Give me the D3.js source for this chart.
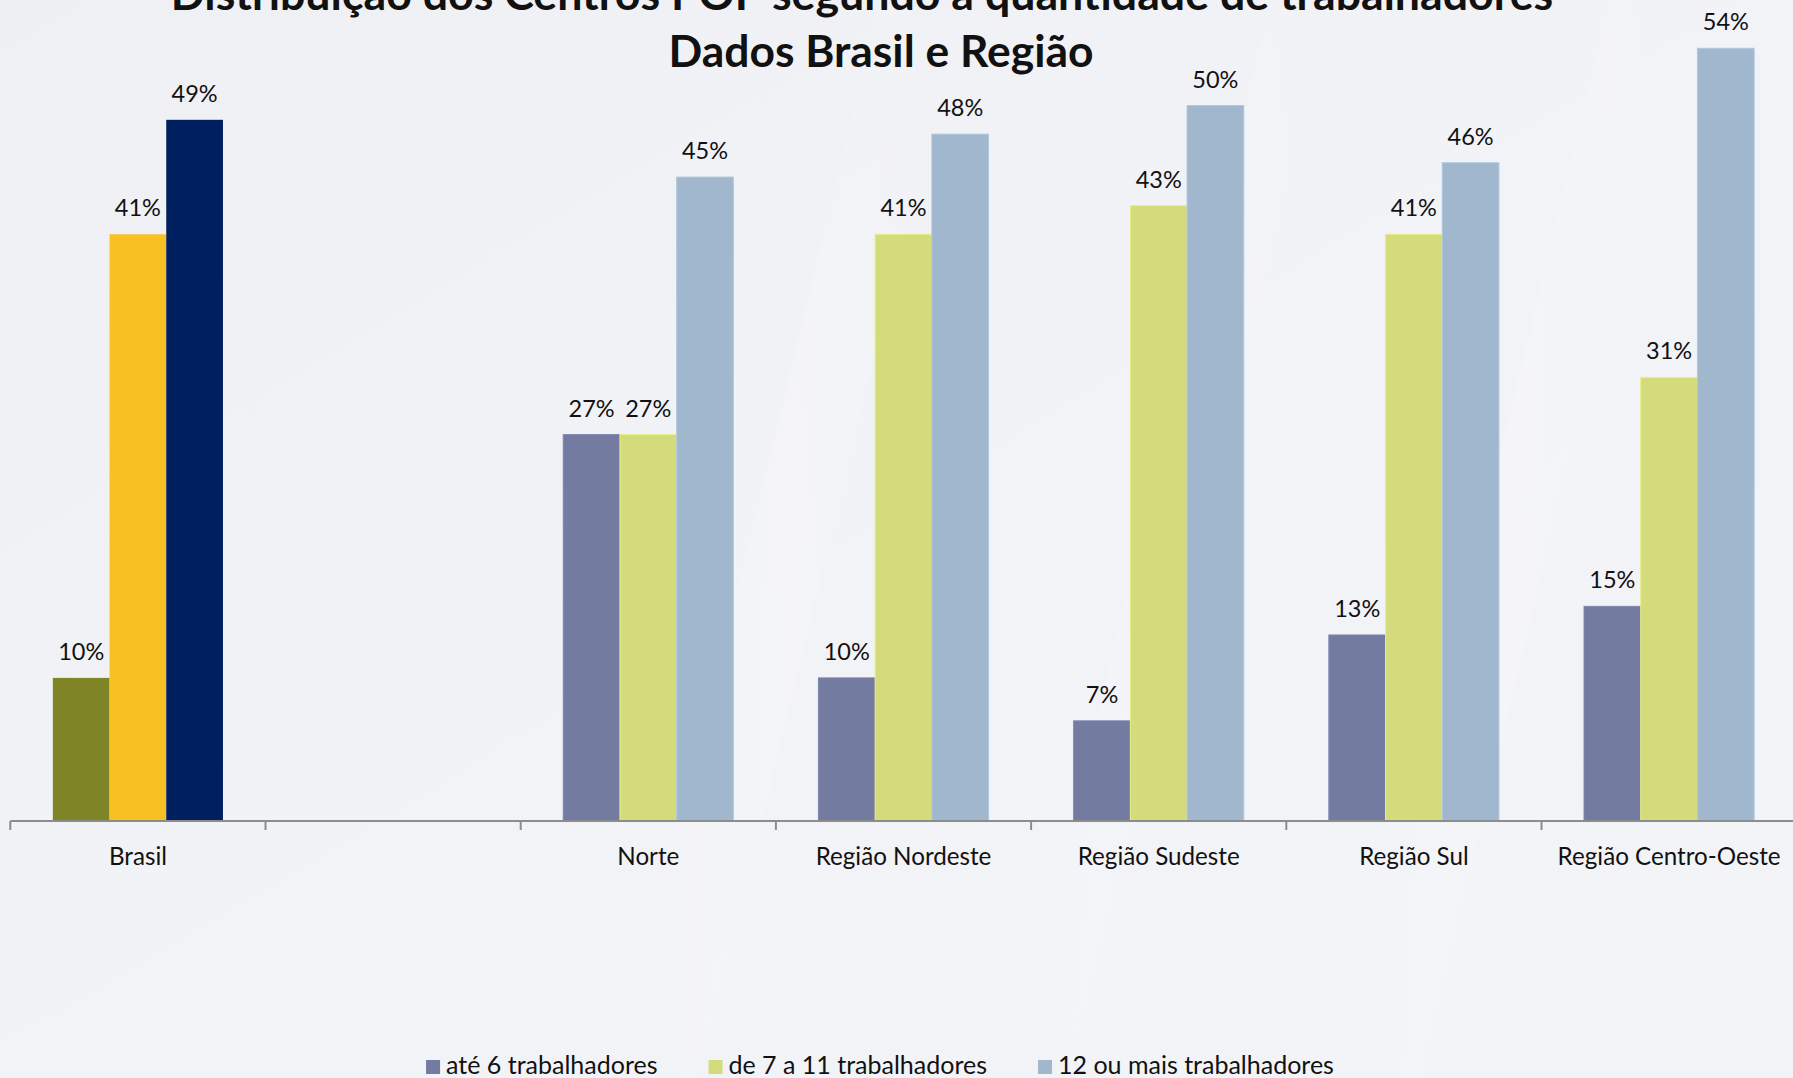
<!DOCTYPE html>
<html>
<head>
<meta charset="utf-8">
<script src="https://cdn.jsdelivr.net/npm/d3@7"></script>
<style>
  html, body { margin: 0; padding: 0; background: #f1f2f6; overflow: hidden; }
  svg { display: block; }
  text { font-family: Lato, "Open Sans", sans-serif; fill: #111; }
</style>
</head>
<body>
<svg id="chart" width="1793" height="1078"></svg>
<script>
// Categories along the x axis (the second slot is an empty spacer between Brasil and the regions)
const categories = ["Brasil", "", "Norte", "Região Nordeste", "Região Sudeste", "Região Sul", "Região Centro-Oeste"];
const series = ["até 6 trabalhadores", "de 7 a 11 trabalhadores", "12 ou mais trabalhadores"];

// Percent of Centros POP per category, one array per series
const ate6     = [10, null, 27, 10,  7, 13, 15];
const de7a11   = [41, null, 27, 41, 43, 41, 31];
const mais12   = [49, null, 45, 48, 50, 46, 54];

const titleLines = [
  "Distribuição dos Centros POP segundo a quantidade de trabalhadores",
  "Dados Brasil e Região"
];

// Brasil uses its own palette; the regions share the legend palette
const brasilColors = ["#7f8427", "#f7c121", "#001f5e"];
const regionColors = ["#737ba0", "#d4db7b", "#a1b7ce"];

const W = 1793, H = 1078;
const svg = d3.select("#chart");

// Background with a soft gradient and very faint light streaks
const defs = svg.append("defs");
const bg = defs.append("linearGradient").attr("id", "bg").attr("x1", "0").attr("y1", "0").attr("x2", "1").attr("y2", "1");
bg.append("stop").attr("offset", "0").attr("stop-color", "#eff0f4");
bg.append("stop").attr("offset", "0.5").attr("stop-color", "#f2f3f7");
bg.append("stop").attr("offset", "1").attr("stop-color", "#f3f4f7");
svg.append("rect").attr("width", W).attr("height", H).attr("fill", "url(#bg)");
const streak = defs.append("linearGradient").attr("id", "streak").attr("x1", "0").attr("y1", "0").attr("x2", "1").attr("y2", "0");
streak.append("stop").attr("offset", "0").attr("stop-color", "#fff").attr("stop-opacity", 0);
streak.append("stop").attr("offset", "0.5").attr("stop-color", "#fff").attr("stop-opacity", 0.15);
streak.append("stop").attr("offset", "1").attr("stop-color", "#fff").attr("stop-opacity", 0);
[[620, 80], [1010, 60], [1350, 70]].forEach(([x, w]) => {
  svg.append("path")
    .attr("d", `M${x},${H} L${x + w},${H} L${x + w + 260},0 L${x + 260},0 Z`)
    .attr("fill", "url(#streak)");
});

// Scales
const x = d3.scaleBand().domain(categories.map((c, i) => i)).range([10.3, 1796.7]).paddingInner(0).paddingOuter(0);
const bw = x.bandwidth();
const xs = d3.scaleBand().domain(series.map((s, i) => i)).range([bw * 0.75 / 4.5, bw - bw * 0.75 / 4.5]);
const y = d3.scaleLinear().domain([0, 60]).range([821, 821 - 60 * 14.31]);

const valuesBySeries = [ate6, de7a11, mais12];

// Bars with their value labels
const g = svg.append("g");
valuesBySeries.forEach((vals, si) => {
  vals.forEach((v, ci) => {
    if (v == null) return;
    const color = ci === 0 ? brasilColors[si] : regionColors[si];
    const bx = x(ci) + xs(si);
    g.append("rect")
      .attr("x", bx)
      .attr("y", y(v))
      .attr("width", xs.bandwidth())
      .attr("height", y(0) - y(v))
      .attr("fill", color)
      .attr("stroke", ci === 0 ? "none" : d3.color(color).brighter(0.25))
      .attr("stroke-width", 1);
    g.append("text")
      .attr("x", bx + xs.bandwidth() / 2)
      .attr("y", y(v) - 18)
      .attr("text-anchor", "middle")
      .attr("font-size", 23.5)
      .text(v + "%");
  });
});

// Category axis: line, boundary ticks and centered labels
const axisG = svg.append("g").attr("transform", `translate(0,${y(0)})`);
axisG.call(d3.axisBottom(x).tickSize(0).tickFormat(i => categories[i]))
  .call(a => a.select(".domain").remove());
axisG.selectAll(".tick text")
  .attr("dy", 0).attr("y", 44)
  .attr("font-size", 24.2)
  .attr("font-family", "Lato, 'Open Sans', sans-serif")
  .attr("fill", "#111");
axisG.append("line")
  .attr("x1", x.range()[0]).attr("x2", x.range()[1])
  .attr("stroke", "#8c8c8c").attr("stroke-width", 2);
const bounds = d3.range(categories.length + 1).map(i => x.range()[0] + i * bw);
axisG.selectAll(".bound").data(bounds).join("line")
  .attr("class", "bound")
  .attr("x1", d => d).attr("x2", d => d)
  .attr("y1", 0).attr("y2", 9)
  .attr("stroke", "#8c8c8c").attr("stroke-width", 2);

// Title
svg.append("text").attr("x", 862).attr("y", 10).attr("text-anchor", "middle")
  .attr("font-size", 44.7).attr("font-weight", 700).text(titleLines[0]);
svg.append("text").attr("x", 881).attr("y", 67).attr("text-anchor", "middle")
  .attr("font-size", 44.4).attr("font-weight", 700).text(titleLines[1]);

// Legend, centered below the axis
const legend = svg.append("g");
let lx = 0;
series.forEach((s, i) => {
  const it = legend.append("g");
  it.append("rect").attr("x", 0).attr("y", -14).attr("width", 14).attr("height", 14).attr("fill", regionColors[i]);
  const t = it.append("text").attr("x", 20).attr("y", 0).attr("font-size", 25).text(s);
  const w = 20 + t.node().getComputedTextLength();
  it.attr("transform", `translate(${lx},0)`);
  lx += w + 51;
});
const totalW = lx - 51;
legend.attr("transform", `translate(${880 - totalW / 2},1074)`);
</script>
</body>
</html>
